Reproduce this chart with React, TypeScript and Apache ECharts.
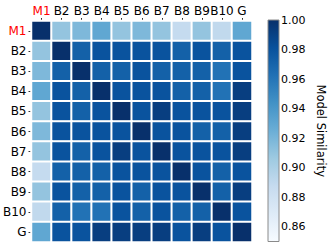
import React, { useEffect, useRef } from "react";
import * as echarts from "echarts";

const labels = ["M1", "B2", "B3", "B4", "B5", "B6", "B7", "B8", "B9", "B10", "G"];

const rowM1 = [1.0, 0.91, 0.918, 0.93, 0.91, 0.918, 0.91, 0.888, 0.91, 0.89, 0.93];
const rowB2 = [0.91, 1.0, 0.972, 0.98, 0.98, 0.98, 0.98, 0.972, 0.98, 0.972, 0.98];
const rowB3 = [0.918, 0.972, 1.0, 0.972, 0.972, 0.98, 0.972, 0.972, 0.972, 0.962, 0.98];
const rowB4 = [0.93, 0.98, 0.972, 1.0, 0.98, 0.98, 0.98, 0.972, 0.972, 0.962, 0.992];
const rowB5 = [0.91, 0.98, 0.972, 0.98, 1.0, 0.98, 0.992, 0.98, 0.98, 0.98, 0.992];
const rowB6 = [0.918, 0.98, 0.98, 0.98, 0.98, 1.0, 0.98, 0.98, 0.972, 0.972, 0.992];
const rowB7 = [0.91, 0.98, 0.972, 0.98, 0.992, 0.98, 1.0, 0.98, 0.98, 0.98, 0.992];
const rowB8 = [0.888, 0.972, 0.972, 0.972, 0.98, 0.98, 0.98, 1.0, 0.98, 0.972, 0.98];
const rowB9 = [0.91, 0.98, 0.972, 0.972, 0.98, 0.972, 0.98, 0.98, 1.0, 0.972, 0.992];
const rowB10 = [0.89, 0.972, 0.962, 0.962, 0.98, 0.972, 0.98, 0.972, 0.972, 1.0, 0.98];
const rowG = [0.93, 0.98, 0.98, 0.992, 0.992, 0.992, 0.992, 0.98, 0.992, 0.98, 1.0];

const matrix = [rowM1, rowB2, rowB3, rowB4, rowB5, rowB6, rowB7, rowB8, rowB9, rowB10, rowG];

const colorbarTicks = [0.86, 0.88, 0.9, 0.92, 0.94, 0.96, 0.98, 1.0];
const vMin = 0.85;
const vMax = 1.0;

const blues = ["#f7fbff", "#deebf7", "#c6dbef", "#9ecae1", "#6baed6", "#4292c6", "#2171b5", "#08519c", "#08306b"];

const FONT = "DejaVu Sans";

export default function App() {
  const ref = useRef<HTMLDivElement>(null);
  useEffect(() => {
    if (!ref.current) return;
    const chart = echarts.init(ref.current, null, { renderer: "svg" });
    const data: number[][] = [];
    matrix.forEach((row, yi) => row.forEach((v, xi) => data.push([xi, yi, v])));

    const cbLeft = 268, cbTop = 20, cbW = 11, cbH = 221.5;
    const n = blues.length - 1;
    const gradStops = blues
      .map((c, i) => ({ offset: i / n, color: blues[n - i] }));

    chart.setOption({
      animation: false,
      backgroundColor: "#ffffff",
      textStyle: { fontFamily: FONT },
      grid: [
        { left: 31, top: 21, width: 221, height: 221 },
        { left: cbLeft, top: cbTop, width: cbW, height: cbH },
      ],
      xAxis: [
        {
          type: "category",
          data: labels,
          position: "top",
          gridIndex: 0,
          axisLine: { show: false },
          axisTick: { show: true, length: 3, alignWithLabel: true, lineStyle: { color: "#333", width: 1 } },
          axisLabel: {
            margin: 4,
            fontSize: 12,
            fontFamily: FONT,
            interval: 0,
            color: (v: string) => (v === "M1" ? "#ff0000" : "#000000"),
          },
          splitLine: { show: false },
        },
        { type: "value", gridIndex: 1, show: false, min: 0, max: 1 },
      ],
      yAxis: [
        {
          type: "category",
          data: labels,
          inverse: true,
          gridIndex: 0,
          axisLine: { show: false },
          axisTick: { show: true, length: 3, alignWithLabel: true, lineStyle: { color: "#333", width: 1 } },
          axisLabel: {
            margin: 5,
            fontSize: 12,
            fontFamily: FONT,
            interval: 0,
            color: (v: string) => (v === "M1" ? "#ff0000" : "#000000"),
          },
          splitLine: { show: false },
        },
        {
          type: "value",
          gridIndex: 1,
          position: "right",
          min: vMin,
          max: vMax,
          axisLine: { show: false },
          axisTick: { show: true, length: 3, customValues: colorbarTicks, lineStyle: { color: "#333" } },
          axisLabel: {
            customValues: colorbarTicks,
            fontSize: 11,
            margin: 3,
            color: "#000",
            fontFamily: FONT,
            formatter: (v: number) => v.toFixed(2),
          },
          splitLine: { show: false },
          name: "Model Similarity",
          nameLocation: "middle",
          nameRotate: -90,
          nameGap: 37,
          nameTextStyle: { fontSize: 11.5, color: "#000", fontFamily: FONT },
        },
      ],
      visualMap: {
        show: false,
        type: "continuous",
        min: vMin,
        max: vMax,
        seriesIndex: 0,
        inRange: { color: blues },
      },
      graphic: [
        {
          type: "rect",
          shape: { x: cbLeft, y: cbTop, width: cbW, height: cbH },
          style: {
            fill: new echarts.graphic.LinearGradient(0, 0, 0, 1, gradStops),
            stroke: "#8a8a8a",
            lineWidth: 1,
          },
          z: 5,
        },
      ],
      series: [
        {
          type: "heatmap",
          xAxisIndex: 0,
          yAxisIndex: 0,
          data,
          itemStyle: { borderColor: "#ffffff", borderWidth: 2 },
          emphasis: { disabled: true },
        },
      ],
    });
    return () => chart.dispose();
  }, []);
  return <div ref={ref} style={{ position: "fixed", left: 0, top: 0, width: 328, height: 246 }} />;
}
